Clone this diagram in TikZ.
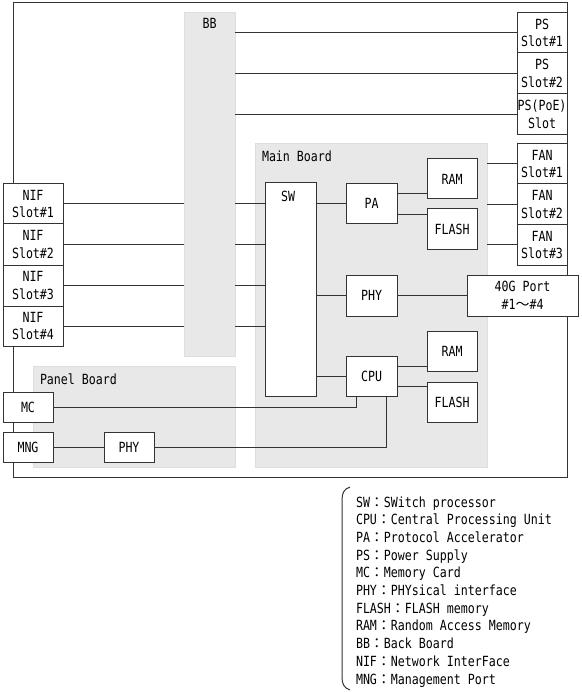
\documentclass[tikz,border=0pt]{standalone}
\usepackage{fontspec}
\newfontfamily\monof[FakeStretch=0.83]{DejaVu Sans Mono}
\newfontfamily\cjkf{Noto Sans CJK JP}
\newcommand\jcolon{{\cjkf ：}}
\newcommand\jtilde{{\cjkf ～}}
\usetikzlibrary{calc}
\begin{document}
\begin{tikzpicture}[x=1pt,y=-1pt,
  every node/.style={font=\monof\fontsize{14}{17.5}\selectfont, inner sep=0pt, outer sep=0pt},
  box/.style={draw=black!80, fill=white, line width=1pt, align=center},
  board/.style={draw=black!13, fill=black!9, line width=1pt},
  frame/.style={draw=black!80, line width=1pt},
  wire/.style={draw=black!80, line width=1pt},
  brace/.style={draw=black!80, line width=1pt}]
\useasboundingbox (0,0) rectangle (581,692);
% outer frame
\node[frame, minimum width=554pt, minimum height=474pt] (frame) at (290,240) {};
% boards
\node[board, minimum width=51pt, minimum height=343pt] (bb) at (209.5,184.5) {};
\node[board, minimum width=232pt, minimum height=323pt] (mb) at (371,305.5) {};
\node[board, minimum width=202pt, minimum height=101pt] (pb) at (134,416.5) {};
\node[anchor=base] (bblbl) at (209.5,29) {BB};
\node[anchor=base west] (mblbl) at (262,162) {Main Board};
\node[anchor=base west] (pblbl) at (40,384) {Panel Board};
% boxes
\node[box, minimum width=50pt, minimum height=40pt] (ps1) at (542,33) {PS\\Slot\#1};
\node[box, minimum width=50pt, minimum height=41pt] (ps2) at (542,73.5) {PS\\Slot\#2};
\node[box, minimum width=50pt, minimum height=41pt] (ps3) at (542,114.5) {PS(PoE)\\Slot};
\node[box, minimum width=50pt, minimum height=40pt] (fan1) at (542,164) {FAN\\Slot\#1};
\node[box, minimum width=50pt, minimum height=41pt] (fan2) at (542,204.5) {FAN\\Slot\#2};
\node[box, minimum width=50pt, minimum height=40pt] (fan3) at (542,245) {FAN\\Slot\#3};
\node[box, minimum width=60pt, minimum height=40pt] (nif1) at (33,204) {NIF\\Slot\#1};
\node[box, minimum width=60pt, minimum height=41pt] (nif2) at (33,244.5) {NIF\\Slot\#2};
\node[box, minimum width=60pt, minimum height=41pt] (nif3) at (33,285.5) {NIF\\Slot\#3};
\node[box, minimum width=60pt, minimum height=40pt] (nif4) at (33,326) {NIF\\Slot\#4};
\node[box, minimum width=50pt, minimum height=30pt] (mc) at (28,407) {MC};
\node[box, minimum width=50pt, minimum height=30pt] (mng) at (28,447) {MNG};
\node[box, minimum width=50pt, minimum height=30pt] (phyp) at (129,447) {PHY};
\node[box, minimum width=51pt, minimum height=213pt] (sw) at (290.5,289.5) {};
\node[anchor=base] (swlbl) at (288,202) {SW};
\node[box, minimum width=51pt, minimum height=40pt] (pa) at (371.5,203.5) {PA};
\node[box, minimum width=50pt, minimum height=40pt] (ram1) at (452,179) {RAM};
\node[box, minimum width=50pt, minimum height=41pt] (flash1) at (452,229.5) {FLASH};
\node[box, minimum width=51pt, minimum height=41pt] (phym) at (371.5,295.5) {PHY};
\node[box, minimum width=111pt, minimum height=41pt] (g40) at (522.5,295.5) {40G Port\\\#1\jtilde\#4};
\node[box, minimum width=51pt, minimum height=40pt] (cpu) at (371.5,376) {CPU};
\node[box, minimum width=50pt, minimum height=40pt] (ram2) at (452,351) {RAM};
\node[box, minimum width=50pt, minimum height=40pt] (flash2) at (452,402) {FLASH};
% connectors
\foreach \p in {ps1,ps2,ps3} \draw[wire] (\p.west -| bb.east) -- (\p.west);
\foreach \f in {fan1,fan2,fan3} \draw[wire] (\f.west -| mb.east) -- (\f.west);
\foreach \n in {nif1,nif2,nif3,nif4} {
  \draw[wire] (\n.east) -- (\n.east -| bb.west);
  \draw[wire] (\n.east -| bb.east) -- (\n.east -| sw.west);
}
\draw[wire] (pa.west -| sw.east) -- (pa.west);
\draw[wire] ([yshift=10pt]pa.east) -- ([yshift=10pt]pa.east -| ram1.west);
\draw[wire] ([yshift=-11pt]pa.east) -- ([yshift=-11pt]pa.east -| flash1.west);
\draw[wire] (phym.west -| sw.east) -- (phym.west);
\draw[wire] (phym.east) -- (g40.west);
\draw[wire] (cpu.west -| sw.east) -- (cpu.west);
\draw[wire] ([yshift=10pt]cpu.east) -- ([yshift=10pt]cpu.east -| ram2.west);
\draw[wire] ([yshift=-10pt]cpu.east) -- ([yshift=-10pt]cpu.east -| flash2.west);
\draw[wire] (mc.east) -| ([xshift=-15.5pt]cpu.south);
\draw[wire] (mng.east) -- (phyp.west);
\draw[wire] (phyp.east) -| ([xshift=14.5pt]cpu.south);
% legend
\coordinate (bt) at (350,487);
\coordinate (bb1) at (342,500);
\coordinate (bb2) at (342,677);
\coordinate (bbot) at (350,690);
\draw[brace] (bt) .. controls (344,489) and (342,493) .. (bb1) -- (bb2) .. controls (342,684) and (344,688) .. (bbot);
\foreach \t [count=\i] in {SW\jcolon SWitch processor, CPU\jcolon Central Processing Unit, PA\jcolon Protocol Accelerator, PS\jcolon Power Supply, MC\jcolon Memory Card, PHY\jcolon PHYsical interface, FLASH\jcolon FLASH memory, RAM\jcolon Random Access Memory, BB\jcolon Back Board, NIF\jcolon Network InterFace, MNG\jcolon Management Port}
  \node[anchor=base west] (leg\i) at (356,{507+17.7*(\i-1)}) {\t};
\end{tikzpicture}
\end{document}
